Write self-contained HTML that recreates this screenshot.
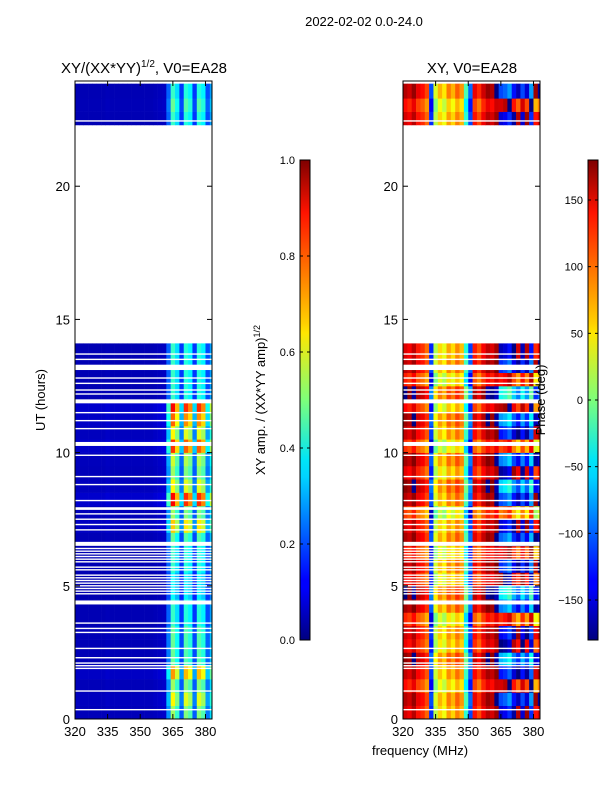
<!DOCTYPE html>
<html><head><meta charset="utf-8"><style>
body{margin:0;background:#fff;}
svg text{font-family:"Liberation Sans",sans-serif;fill:#000;}
</style></head><body>
<svg id="fig" width="600" height="800" xmlns="http://www.w3.org/2000/svg">
<defs>
<linearGradient id="jet" x1="0" y1="1" x2="0" y2="0">
<stop offset="0" stop-color="#00007f"/><stop offset="0.11" stop-color="#0000ff"/><stop offset="0.125" stop-color="#0000ff"/>
<stop offset="0.34" stop-color="#00d4ff"/><stop offset="0.375" stop-color="#00e5f7"/><stop offset="0.5" stop-color="#7dff7a"/>
<stop offset="0.64" stop-color="#ffe600"/><stop offset="0.66" stop-color="#ffd000"/><stop offset="0.89" stop-color="#ff1300"/><stop offset="1" stop-color="#7f0000"/>
</linearGradient>
<clipPath id="clipL"><rect x="75" y="81" width="137" height="638"/></clipPath>
<clipPath id="clipR"><rect x="403" y="81" width="137" height="638"/></clipPath>
</defs>
<text x="364" y="26" font-size="13" text-anchor="middle">2022-02-02 0.0-24.0</text>
<g id="amp" clip-path="url(#clipL)"></g>
<g id="pha" clip-path="url(#clipR)"></g>
<g id="axes"></g>
</svg>
<script>
const freqs=[320,322,324,326,328,330,332,334,336,338,340,342,344,346,348,350,352,354,356,358,360,362,364,366,368,370,372,374,376,378,380,382];
const ampColProfile=[0.05,0.05,0.05,0.05,0.05,0.05,0.05,0.06,0.05,0.05,0.05,0.05,0.05,0.05,0.05,0.05,0.05,0.05,0.06,0.07,0.08,0.45,0.95,0.75,0.35,0.9,0.8,0.35,0.9,0.8,0.4,0.6];
const rowStarts=[0,0.5,1,1.5,2,2.5,3,3.5,4,4.5,5,5.5,6,6.5,7,7.5,8,8.5,9,9.5,10,10.5,11,11.5,12,12.5,13,13.5,22.3,22.8,23.3];
const rowEnds=[0.5,1,1.5,2,2.5,3,3.5,4,4.5,5,5.5,6,6.5,7,7.5,8,8.5,9,9.5,10,10.5,11,11.5,12,12.5,13,13.5,14.1,22.8,23.3,23.85];
const ampRowStrength=[0.5,0.6,0.5,0.7,0.45,0.45,0.45,0.4,0.4,0.35,0.35,0.4,0.4,0.45,0.65,0.5,0.85,0.6,0.5,0.55,0.8,0.6,0.75,0.85,0.4,0.4,0.4,0.4,0.4,0.45,0.4];
const phaseColBase=[150,140,160,130,120,100,-120,20,60,40,80,60,90,70,-30,-110,130,110,140,160,150,170,-150,-140,-120,-170,160,-150,170,-120,130,150];
const phaseRowOffset=[0,40,-60,20,80,-30,10,-90,60,100,-40,30,-70,50,0,-120,40,90,-20,60,-100,20,70,-50,110,-80,30,-10,0,-60,40];
const gapHours=[0.35,1.05,1.9,2.0,2.1,2.3,2.65,3.25,3.4,3.6,4.7,4.8,4.9,5.0,5.1,5.2,5.3,5.4,5.6,5.7,5.9,6.0,6.1,6.2,6.3,6.4,7.1,7.3,7.5,7.7,8.2,8.8,9.1,9.9,10.9,11.2,11.5,12.2,12.35,12.6,12.8,13.5,13.7,22.45];
const wideGapStart=[13.1,11.85,10.25,6.5,4.3,7.85];
const wideGapEnd=[13.3,12.0,10.4,6.65,4.45,7.95];
const ampTicks=[0,0.2,0.4,0.6,0.8,1.0];
const phaseTicks=[-150,-100,-50,0,50,100,150];
const xTicks=[320,335,350,365,380];
const yTicks=[0,5,10,15,20];

function jet(v){v=Math.max(0,Math.min(1,v));
 const r=Math.max(0,Math.min(1,Math.min(4*v-1.5,-4*v+4.5)));
 const g=Math.max(0,Math.min(1,Math.min(4*v-0.5,-4*v+3.5)));
 const b=Math.max(0,Math.min(1,Math.min(4*v+0.5,-4*v+2.5)));
 return `rgb(${Math.round(r*255)},${Math.round(g*255)},${Math.round(b*255)})`;}
const NS='http://www.w3.org/2000/svg';
function mk(t,a,p){const e=document.createElementNS(NS,t);for(const k in a)e.setAttribute(k,a[k]);p.appendChild(e);return e;}
const Y0=719,PXH=(719-81)/23.95;
const yS=h=>Y0-h*PXH;
function panel(x0,g,isAmp){
 const xS=f=>x0+(f-320)*(137/63);
 for(let r=0;r<rowStarts.length;r++){
  for(let c=0;c<freqs.length;c++){
   let col;
   if(isAmp) col=jet(ampColProfile[c]*ampRowStrength[r]*1.05+0.03);
   else{let p=phaseColBase[c]+(c>=22?phaseRowOffset[r]:phaseRowOffset[r]*0.3);p=((p+180)%360+360)%360-180;col=jet((p+180)/360);}
   const e=mk('rect',{x:xS(freqs[c]),y:yS(rowEnds[r]),width:xS(freqs[c]+2)-xS(freqs[c])+0.3,height:yS(rowStarts[r])-yS(rowEnds[r])+0.3,fill:col},g);
   
   
  }
 }
 gapHours.forEach(h=>{const e=mk('rect',{x:x0,y:yS(h)-0.7,width:137,height:1.4,fill:'#fff'},g);
  
  });
 wideGapStart.forEach((h,i)=>{const e=mk('rect',{x:x0,y:yS(wideGapEnd[i]),width:137,height:yS(h)-yS(wideGapEnd[i]),fill:'#fff'},g);
  
  });
 const ax=document.getElementById('axes');
 const fr=mk('rect',{x:x0,y:81,width:137,height:638,fill:'none',stroke:'#000','stroke-width':1},ax);
 
 
 xTicks.forEach(t=>{const x=xS(t);mk('line',{x1:x,x2:x,y1:719,y2:714,stroke:'#000'},ax);mk('line',{x1:x,x2:x,y1:81,y2:86,stroke:'#000'},ax);
  const e=mk('text',{x:x,y:736,'font-size':13,'text-anchor':'middle'},ax);e.textContent=t;
  
  });
 yTicks.forEach(t=>{const y=yS(t);mk('line',{x1:x0,x2:x0+5,y1:y,y2:y,stroke:'#000'},ax);mk('line',{x1:x0+137,x2:x0+132,y1:y,y2:y,stroke:'#000'},ax);
  const e=mk('text',{x:x0-5,y:y+5,'font-size':13,'text-anchor':'end'},ax);e.textContent=t;
  
  });
}
panel(75,document.getElementById('amp'),true);
panel(403,document.getElementById('pha'),false);
const ax=document.getElementById('axes');
function cbar(x,ticks,lo,hi,fmt,name){
 const r=mk('rect',{x:x,y:160,width:10,height:480,fill:'url(#jet)',stroke:'#000','stroke-width':1},ax);
 
 
 ticks.forEach(t=>{const y=640-(t-lo)/(hi-lo)*480;mk('line',{x1:x,x2:x+3,y1:y,y2:y,stroke:'#000'},ax);mk('line',{x1:x+10,x2:x+7,y1:y,y2:y,stroke:'#000'},ax);
  const e=mk('text',{x:x-5,y:y+4,'font-size':11,'text-anchor':'end'},ax);e.textContent=fmt(t);
  
  });
}
cbar(300,ampTicks,0,1,t=>t.toFixed(1),'amplitude-colorbar');
cbar(588,phaseTicks,-180,180,t=>t<0?'\u2212'+(-t):''+t,'phase-colorbar');
</script>
<svg width="600" height="800" style="position:absolute;left:0;top:0" xmlns="http://www.w3.org/2000/svg">
<text x="144" y="73" font-size="15" text-anchor="middle" font-family="Liberation Sans,sans-serif">XY/(XX*YY)<tspan font-size="10" dy="-6">1/2</tspan><tspan dy="6">, V0=EA28</tspan></text>
<text x="472" y="73" font-size="15" text-anchor="middle" font-family="Liberation Sans,sans-serif">XY, V0=EA28</text>
<text x="420" y="755" font-size="13" text-anchor="middle" font-family="Liberation Sans,sans-serif">frequency (MHz)</text>
<text transform="translate(45,400) rotate(-90)" font-size="13" text-anchor="middle" font-family="Liberation Sans,sans-serif">UT (hours)</text>
<text transform="translate(265,400) rotate(-90)" font-size="13" text-anchor="middle" font-family="Liberation Sans,sans-serif">XY amp. / (XX*YY amp)<tspan font-size="9" dy="-5">1/2</tspan></text>
<text transform="translate(545,400) rotate(-90)" font-size="13" text-anchor="middle" font-family="Liberation Sans,sans-serif">Phase (deg)</text>
</svg>
</body></html>
